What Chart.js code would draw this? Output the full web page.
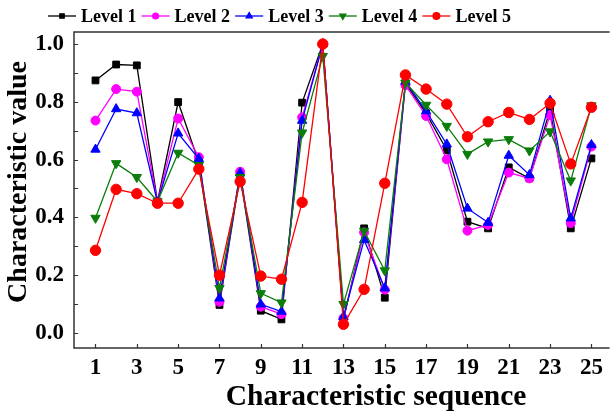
<!DOCTYPE html>
<html>
<head>
<meta charset="utf-8">
<title>Characteristic value by level</title>
<script src="https://cdn.jsdelivr.net/npm/chart.js@4.4.1/dist/chart.umd.min.js"></script>
<style>
  html, body { margin: 0; padding: 0; background: #fff; overflow: hidden; }
  #wrap { width: 616px; height: 416px; }
</style>
</head>
<body>
<div id="wrap"><canvas id="chart-levels" width="616" height="416"></canvas></div>
<script>
// ── Data ──────────────────────────────────────────────────────
const sequence = [1, 2, 3, 4, 5, 6, 7, 8, 9, 10, 11, 12, 13, 14, 15, 16, 17, 18, 19, 20, 21, 22, 23, 24, 25];

const level1 = [0.874, 0.929, 0.926, 0.455, 0.799, 0.590, 0.097, 0.547, 0.077, 0.047, 0.797, 1.000, 0.045,
                0.362, 0.122, 0.864, 0.760, 0.633, 0.385, 0.362, 0.573, 0.535, 0.772, 0.362, 0.604];
const level2 = [0.735, 0.844, 0.835, 0.453, 0.742, 0.608, 0.108, 0.558, 0.091, 0.065, 0.746, 1.000, 0.051,
                0.348, 0.150, 0.858, 0.751, 0.601, 0.354, 0.374, 0.555, 0.535, 0.754, 0.380, 0.645];
const level3 = [0.635, 0.775, 0.761, 0.452, 0.691, 0.603, 0.120, 0.553, 0.099, 0.074, 0.735, 1.000, 0.056,
                0.322, 0.155, 0.870, 0.768, 0.653, 0.431, 0.382, 0.614, 0.547, 0.804, 0.397, 0.651];
const level4 = [0.398, 0.587, 0.539, 0.455, 0.623, 0.581, 0.155, 0.539, 0.137, 0.105, 0.693, 0.958, 0.100,
                0.353, 0.216, 0.866, 0.789, 0.716, 0.619, 0.662, 0.670, 0.631, 0.697, 0.527, 0.787];
const level5 = [0.286, 0.497, 0.482, 0.449, 0.449, 0.567, 0.200, 0.524, 0.197, 0.186, 0.452, 1.000, 0.030,
                0.151, 0.518, 0.893, 0.844, 0.792, 0.679, 0.731, 0.763, 0.739, 0.795, 0.585, 0.781];

const xTicks      = [1, 3, 5, 7, 9, 11, 13, 15, 17, 19, 21, 23, 25];
const yTicks      = [0, 0.2, 0.4, 0.6, 0.8, 1.0];
const yMinorTicks = [0.1, 0.3, 0.5, 0.7, 0.9];

const xTitle = 'Characteristic sequence';
const yTitle = 'Characteristic value';

const FONT = '"Liberation Serif", "Times New Roman", serif';

// ── Series ────────────────────────────────────────────────────
function series(label, data, color, pointStyle, radius, rotation, order) {
  return {
    label, data, order,
    borderColor: color,
    backgroundColor: color,
    pointBackgroundColor: color,
    pointBorderColor: color,
    borderWidth: 1.3,
    pointStyle,
    pointRadius: radius,
    pointRotation: rotation,
    pointBorderWidth: 1,
    tension: 0
  };
}

const datasets = [
  series('Level 1', level1, '#000000', 'rect',     4.8, 0,   4),
  series('Level 2', level2, '#ff00ff', 'circle',   4.5, 0,   3),
  series('Level 3', level3, '#0000ff', 'triangle', 5.4, 0,   2),
  series('Level 4', level4, '#0a7d0a', 'triangle', 5.4, 180, 1),
  series('Level 5', level5, '#ff0000', 'circle',   5.2, 0,   0)
];

// ── Frame, inward ticks, axis titles ──────────────────────────
const framePlugin = {
  id: 'frame',
  beforeDatasetsDraw(chart) {
    const { ctx, chartArea: { left, right, top, bottom }, scales: { x, y } } = chart;
    ctx.save();
    ctx.strokeStyle = '#333';
    ctx.lineWidth = 1.5;
    ctx.beginPath();
    ctx.moveTo(right, top); ctx.lineTo(left, top);
    ctx.lineTo(left, bottom); ctx.lineTo(right, bottom);
    ctx.stroke();

    ctx.lineWidth = 1.2;
    ctx.beginPath();
    xTicks.forEach(v => {
      const px = Math.round(x.getPixelForValue(v)) + 0.5;
      ctx.moveTo(px, bottom); ctx.lineTo(px, bottom - 4);
    });
    yTicks.concat(yMinorTicks).forEach(v => {
      const py = Math.round(y.getPixelForValue(v)) + 0.5;
      ctx.moveTo(left, py); ctx.lineTo(left + 4, py);
    });
    ctx.stroke();

    // axis titles
    ctx.fillStyle = '#000';
    ctx.textAlign = 'center';
    ctx.textBaseline = 'middle';
    ctx.font = 'bold 29.5px ' + FONT;
    ctx.fillText(xTitle, 376, 397);
    ctx.font = 'bold 28px ' + FONT;
    ctx.translate(19, 182);
    ctx.rotate(-Math.PI / 2);
    ctx.fillText(yTitle, 0, 0);
    ctx.restore();
  }
};

// ── Legend: line + marker per series ──────────────────────────
const legendPlugin = {
  id: 'lineLegend',
  afterDraw(chart) {
    const ctx = chart.ctx;
    const startX = 48, pitch = 93.6, cy = 16, lineW = 28;
    ctx.save();
    ctx.font = 'bold 18px ' + FONT;
    ctx.textBaseline = 'middle';
    chart.data.datasets.forEach((ds, i) => {
      const x0 = startX + i * pitch;
      ctx.strokeStyle = ds.borderColor;
      ctx.lineWidth = 1.3;
      ctx.beginPath();
      ctx.moveTo(x0, cy); ctx.lineTo(x0 + lineW, cy);
      ctx.stroke();
      ctx.fillStyle = ds.borderColor;
      Chart.helpers.drawPoint(ctx, {
        pointStyle: ds.pointStyle,
        radius: ds.pointRadius * 0.65,
        rotation: ds.pointRotation,
        borderWidth: 1
      }, x0 + lineW / 2, cy);
      ctx.fillStyle = '#000';
      ctx.fillText(ds.label, x0 + lineW + 5, cy + 1);
    });
    ctx.restore();
  }
};

new Chart(document.getElementById('chart-levels'), {
  type: 'line',
  data: { labels: sequence, datasets },
  options: {
    responsive: false,
    devicePixelRatio: 1,
    animation: false,
    layout: { padding: { top: 32, right: 0, left: 0, bottom: 0 } },
    plugins: {
      legend: { display: false },
      tooltip: { enabled: false }
    },
    scales: {
      x: {
        type: 'linear',
        min: -0.04,
        max: 25.88,
        grid: { display: false, drawTicks: false },
        border: { display: false },
        afterBuildTicks: s => { s.ticks = xTicks.map(v => ({ value: v })); },
        afterFit: s => { s.height = 68; },
        ticks: {
          color: '#000',
          padding: 6,
          maxRotation: 0,
          autoSkip: false,
          font: { family: FONT, size: 23, weight: 'bold' }
        },
        title: { display: false }
      },
      y: {
        min: -0.052,
        max: 1.0415,
        grid: { display: false, drawTicks: false },
        border: { display: false },
        afterBuildTicks: s => { s.ticks = yTicks.map(v => ({ value: v })); },
        afterFit: s => { s.width = 74; },
        ticks: {
          color: '#000',
          padding: 10,
          autoSkip: false,
          font: { family: FONT, size: 23, weight: 'bold' },
          callback: v => v.toFixed(1)
        },
        title: { display: false }
      }
    }
  },
  plugins: [framePlugin, legendPlugin]
});
</script>
</body>
</html>
